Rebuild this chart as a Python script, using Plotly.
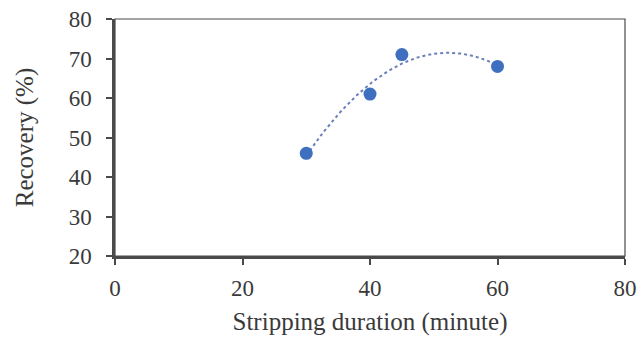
import numpy as np
import plotly.graph_objects as go

# Stripping duration (minute) vs recovery (%)
duration = [30, 40, 45, 60]
recovery = [46, 61, 71, 68]

x_ticks = [0, 20, 40, 60, 80]
y_ticks = [20, 30, 40, 50, 60, 70, 80]

# Second-order polynomial trendline over the measured range
coef = np.polyfit(duration, recovery, 2)
xt = np.linspace(min(duration), max(duration), 120)
yt = np.polyval(coef, xt)

font = "Liberation Serif, Times New Roman, serif"
axis_col = "#4a4a4a"

fig = go.Figure()
fig.add_trace(go.Scatter(
    x=xt, y=yt, mode="lines",
    line=dict(color="#6a7fb8", width=2, dash="dot"),
    hoverinfo="skip", showlegend=False,
))
fig.add_trace(go.Scatter(
    x=duration, y=recovery, mode="markers",
    marker=dict(color="#3f6fbf", size=13),
    showlegend=False,
))

fig.update_layout(
    width=637, height=343,
    margin=dict(l=115, r=12, t=19, b=87),
    paper_bgcolor="white", plot_bgcolor="white",
    font=dict(family=font, size=23, color="#3a3a3a"),
    shapes=[dict(type="rect", xref="paper", yref="paper", x0=0, y0=0, x1=1, y1=1,
                 line=dict(color=axis_col, width=1.2), layer="above")],
)
fig.update_xaxes(
    range=[0, 80], tickvals=x_ticks, showgrid=False, zeroline=False,
    showline=True, linecolor=axis_col, linewidth=2.5, automargin=False,
    ticks="outside", ticklen=6, tickwidth=2, tickcolor=axis_col,
    ticklabelstandoff=4,
    title=dict(text="Stripping duration (minute)", font=dict(size=25), standoff=13),
)
fig.update_yaxes(
    range=[20, 80], tickvals=y_ticks, showgrid=False, zeroline=False,
    showline=True, linecolor=axis_col, linewidth=2.5, automargin=False,
    ticks="outside", ticklen=6, tickwidth=2, tickcolor=axis_col,
    ticklabelstandoff=10,
    title=dict(text="Recovery (%)", font=dict(size=25), standoff=28),
)

fig.write_html("out.html")
